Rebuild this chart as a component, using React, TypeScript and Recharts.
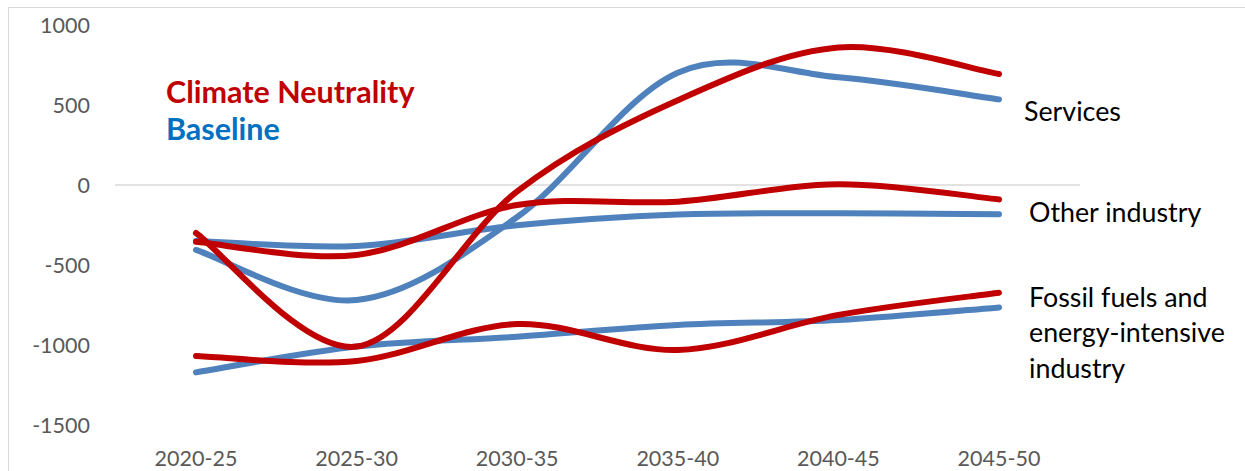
import { LineChart, Line, XAxis, YAxis, ReferenceLine } from 'recharts'

const categories = ['2020-25', '2025-30', '2030-35', '2035-40', '2040-45', '2045-50']
const cnServices = [-300, -1010, -40, 530, 860, 694]
const blServices = [-406, -719, -200, 702, 673, 535]
const cnOther = [-355, -437, -125, -104, 5, -90]
const blOther = [-350, -381, -252, -185, -177, -183]
const cnFossil = [-1069, -1100, -869, -1031, -812, -673]
const blFossil = [-1171, -1010, -948, -875, -844, -765]
const yTicks = [-1500, -1000, -500, 0, 500, 1000]

const RED = '#C00000'
const BLUE = '#4F81BD'
const FONT = "Lato, 'Open Sans', sans-serif"

const data = categories.map((c, i) => ({
  period: c,
  cnServices: cnServices[i],
  blServices: blServices[i],
  cnOther: cnOther[i],
  blOther: blOther[i],
  cnFossil: cnFossil[i],
  blFossil: blFossil[i],
}))

// excel-style smoothing (catmull-rom through the points)
function excelCurve(ctx: any) {
  let pts: number[][] = []
  return {
    areaStart() {},
    areaEnd() {},
    lineStart() { pts = [] },
    point(x: number, y: number) { pts.push([+x, +y]) },
    lineEnd() {
      if (!pts.length) return
      ctx.moveTo(pts[0][0], pts[0][1])
      for (let i = 0; i < pts.length - 1; i++) {
        const p0 = pts[i - 1] || pts[i]
        const p1 = pts[i]
        const p2 = pts[i + 1]
        const p3 = pts[i + 2] || pts[i + 1]
        ctx.bezierCurveTo(
          p1[0] + (p2[0] - p0[0]) / 6, p1[1] + (p2[1] - p0[1]) / 6,
          p2[0] - (p3[0] - p1[0]) / 6, p2[1] - (p3[1] - p1[1]) / 6,
          p2[0], p2[1],
        )
      }
    },
  }
}

const tick = { fill: '#595959', fontSize: 21.5, fontFamily: FONT }

export default function App() {
  const line = (key: string, color: string) => (
    <Line key={key} dataKey={key} type={excelCurve as any} stroke={color} strokeWidth={6}
      strokeLinecap="round" dot={false} activeDot={false} isAnimationActive={false} />
  )
  return (
    <div style={{ position: 'absolute', left: 0, top: 0, width: 1245, height: 471, background: '#fff', overflow: 'hidden' }}>
      <div style={{ position: 'absolute', left: 8, top: 7, right: 0, bottom: 0, borderTop: '1.5px solid #d9d9d9', borderLeft: '1.5px solid #d9d9d9' }} />
      <div style={{ position: 'absolute', left: 0, top: 0 }}>
        <LineChart width={1245} height={471} data={data} margin={{ top: 25, right: 165, bottom: 0, left: 15 }}>
          <XAxis dataKey="period" axisLine={false} tickLine={false} tickSize={0} tickMargin={26} height={46}
            padding={{ left: 81, right: 81 }} tick={tick} interval={0} />
          <XAxis xAxisId="full" type="number" domain={[0, 1]} hide />
          <YAxis domain={[-1500, 1000]} ticks={yTicks} axisLine={false} tickLine={false} tickSize={0}
            tickMargin={25} width={100} tick={tick} interval={0} />
          <ReferenceLine y={0} xAxisId="full" stroke="#d9d9d9" strokeWidth={1.5} />
          {line('blServices', BLUE)}
          {line('blOther', BLUE)}
          {line('blFossil', BLUE)}
          {line('cnServices', RED)}
          {line('cnOther', RED)}
          {line('cnFossil', RED)}
        </LineChart>
      </div>
      <svg width={1245} height={471} style={{ position: 'absolute', left: 0, top: 0, pointerEvents: 'none' }}>
        <g fontFamily={FONT} fontWeight="bold" fontSize={30.5}>
          <text x={166} y={102.5} fill={RED}>Climate Neutrality</text>
          <text x={166} y={140} fill="#0070C0">Baseline</text>
        </g>
        <g fontFamily={FONT} fontSize={26.8} fill="#000">
          <text x={1024} y={120.5}>Services</text>
          <text x={1029} y={221.5}>Other industry</text>
          <text x={1029} y={306.5}>Fossil fuels and</text>
          <text x={1029} y={342}>energy-intensive</text>
          <text x={1029} y={377.5}>industry</text>
        </g>
      </svg>
    </div>
  )
}
